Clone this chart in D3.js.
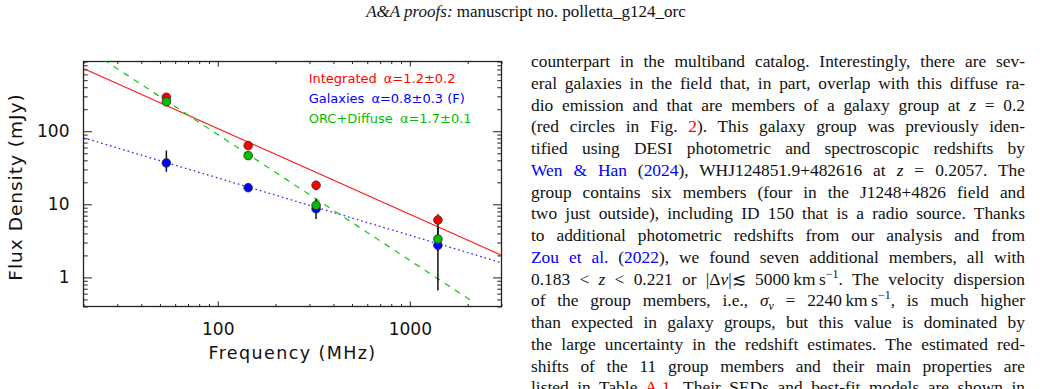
<html>
  <head>
    <script src="https://cdn.jsdelivr.net/npm/d3@7"></script>
    <style>
      * {
        margin: 0;
        padding: 0;
      }
      body {
        width: 1049px;
        height: 389px;
        background-color: white;
        position: relative;
        overflow: hidden;
        font-family: "Liberation Serif", "Times New Roman", serif;
        color: #111;
      }
      #header {
        position: absolute;
        left: 526px;
        top: 2px;
        transform: translateX(-50%);
        font-size: 17px;
        line-height: 20px;
        white-space: nowrap;
      }
      #chart {
        position: absolute;
        left: 0;
        top: 0;
      }
      #column {
        position: absolute;
        left: 531px;
        top: 51px;
        width: 494px;
        font-size: 17.4px;
        line-height: 21.75px;
      }
      #column div {
        text-align: justify;
        text-align-last: justify;
      }
      #column sup, #column sub {
        font-size: 12px;
        line-height: 0;
      }
      .red { color: #f00; }
      .blue { color: #00f; }
      .ax text {
        font-family: "DejaVu Sans", sans-serif;
        font-size: 17px;
        fill: #111;
      }
    </style>
  </head>
  <body>
    <div id="header"><i>A&amp;A proofs:</i> manuscript no. polletta_g124_orc</div>
    <svg id="chart" width="510" height="389"></svg>
    <div id="column">
      <div>counterpart in the multiband catalog. Interestingly, there are sev-</div>
      <div>eral galaxies in the field that, in part, overlap with this diffuse ra-</div>
      <div>dio emission and that are members of a galaxy group at <i>z</i> = 0.2</div>
      <div>(red circles in Fig. <span class="red">2</span>). This galaxy group was previously iden-</div>
      <div>tified using DESI photometric and spectroscopic redshifts by</div>
      <div><span class="blue">Wen &amp; Han</span> (<span class="blue">2024</span>), WHJ124851.9+482616 at <i>z</i> = 0.2057. The</div>
      <div>group contains six members (four in the J1248+4826 field and</div>
      <div>two just outside), including ID 150 that is a radio source. Thanks</div>
      <div>to additional photometric redshifts from our analysis and from</div>
      <div><span class="blue">Zou et al.</span> (<span class="blue">2022</span>), we found seven additional members, all with</div>
      <div>0.183 &lt; <i>z</i> &lt; 0.221 or |Δ<i>v</i>|≲ 5000&#8201;km&#8201;s<sup>−1</sup>. The velocity dispersion</div>
      <div>of the group members, i.e., <i>σ<sub>v</sub></i> = 2240&#8201;km&#8201;s<sup>−1</sup>, is much higher</div>
      <div>than expected in galaxy groups, but this value is dominated by</div>
      <div>the large uncertainty in the redshift estimates. The estimated red-</div>
      <div>shifts of the 11 group members and their main properties are</div>
      <div>listed in Table <span class="red">A.1</span>. Their SEDs and best-fit models are shown in</div>
    </div>

    <script>
      // observing frequencies (MHz)
      const freqs = [54, 144, 325, 1400];

      // flux densities (mJy) and error bar ends
      const integrated = [292, 63.7, 18.2, 6.1];
      const integratedLo = [275, 59, 15.6, 4.6];
      const integratedHi = [310, 68, 21, 7.3];

      const galaxies = [36.9, 16.9, 8.7, 2.75];
      const galaxiesLo = [27.8, 15.8, 6.3, 0.66];
      const galaxiesHi = [54.5, 18.2, 11.9, 4.8];

      const orc = [253, 46.4, 9.7, 3.35];
      const orcLo = [238, 43, 8.0, 2.3];
      const orcHi = [270, 50, 11.5, 4.8];

      // power-law fits: S = S1GHz * (nu/1000)^-alpha
      const fitNames = ["Integrated", "Galaxies", "ORC+Diffuse"];
      const fitLabels = ["\u03b1=1.2\u00b10.2", "\u03b1=0.8\u00b10.3 (F)", "\u03b1=1.7\u00b10.1"];
      const fitAlpha = [1.174, 0.785, 1.722];
      const fitS1GHz = [7.3, 3.77, 1.71];
      const fitNuMax = [3000, 3000, 2150];

      const xTicksMajor = [100, 1000];
      const yTicksMajor = [1, 10, 100];

      const colors = ["#ff0000", "#0000ff", "#00c000"];
      const lineColors = ["#ff1a1a", "#2a2aff", "#22c822"];
      const dashes = [null, "1.6,3", "6,6"];

      const pLeft = 83.5, pRight = 501.5, pTop = 61.5, pBottom = 306.5;

      const x = d3.scaleLog().domain([20, 3000]).range([pLeft, pRight]);
      const y = d3.scaleLog().domain([0.4, 900]).range([pBottom, pTop]);

      const svg = d3.select("#chart");

      svg.append("clipPath").attr("id", "clip")
        .append("rect")
        .attr("x", pLeft).attr("y", pTop)
        .attr("width", pRight - pLeft).attr("height", pBottom - pTop);

      // minor ticks for the log axes
      const xTicks = [];
      [10, 100, 1000].forEach((d) => {
        for (let k = 1; k < 10; k++) {
          const v = d * k;
          if (v >= 20 && v <= 3000) xTicks.push(v);
        }
      });
      const yTicks = [];
      [0.1, 1, 10, 100].forEach((d) => {
        for (let k = 1; k < 10; k++) {
          const v = +(d * k).toPrecision(3);
          if (v >= 0.4 && v <= 900) yTicks.push(v);
        }
      });

      const isMajor = (list) => (v) => list.some((m) => Math.abs(m - v) < 1e-9);
      const xMaj = isMajor(xTicksMajor);
      const yMaj = isMajor(yTicksMajor);

      const xAxis = d3.axisBottom(x).tickValues(xTicks)
        .tickFormat((d) => (xMaj(d) ? d : ""))
        .tickSizeOuter(0).tickPadding(16);
      const yAxis = d3.axisLeft(y).tickValues(yTicks)
        .tickFormat((d) => (yMaj(d) ? d : ""))
        .tickSizeOuter(0).tickPadding(8);

      const gx = svg.append("g").attr("class", "ax")
        .attr("transform", "translate(0," + pBottom + ")").call(xAxis);
      gx.selectAll("line").attr("y2", (d) => (xMaj(d) ? -5 : -2.5));
      const gxTop = svg.append("g").attr("class", "ax")
        .attr("transform", "translate(0," + pTop + ")")
        .call(d3.axisTop(x).tickValues(xTicks).tickFormat("").tickSizeOuter(0));
      gxTop.selectAll("line").attr("y2", (d) => (xMaj(d) ? 5 : 2.5));

      const gy = svg.append("g").attr("class", "ax")
        .attr("transform", "translate(" + pLeft + ",0)").call(yAxis);
      gy.selectAll("line").attr("x2", (d) => (yMaj(d) ? 8.5 : 4.2));
      const gyRight = svg.append("g").attr("class", "ax")
        .attr("transform", "translate(" + pRight + ",0)")
        .call(d3.axisRight(y).tickValues(yTicks).tickFormat("").tickSizeOuter(0));
      gyRight.selectAll("line").attr("x2", (d) => (yMaj(d) ? -8.5 : -4.2));

      svg.selectAll(".ax .domain").remove();
      svg.selectAll(".ax line").attr("stroke", "#222").attr("stroke-width", 1);
      gx.selectAll("text").attr("y", 16).attr("dy", "0.71em");

      svg.append("rect")
        .attr("x", pLeft).attr("y", pTop)
        .attr("width", pRight - pLeft).attr("height", pBottom - pTop)
        .attr("fill", "none").attr("stroke", "#222").attr("stroke-width", 1.3);

      // axis titles
      svg.append("text")
        .attr("x", (pLeft + pRight) / 2).attr("y", 359)
        .attr("text-anchor", "middle")
        .style("font-family", "DejaVu Sans, sans-serif")
        .style("font-size", "17.5px").style("letter-spacing", "1.4px")
        .attr("fill", "#111")
        .text("Frequency (MHz)");

      svg.append("text")
        .attr("transform", "translate(22,187) rotate(-90)")
        .attr("text-anchor", "middle")
        .style("font-family", "DejaVu Sans, sans-serif")
        .style("font-size", "18.5px").style("letter-spacing", "1px")
        .attr("fill", "#111")
        .text("Flux Density (mJy)");

      // fit lines
      const line = d3.line().x((d) => x(d[0])).y((d) => y(d[1]));
      const fits = svg.append("g").attr("clip-path", "url(#clip)");
      fitNames.forEach((name, i) => {
        const pts = [20, fitNuMax[i]].map((nu) => [nu, fitS1GHz[i] * Math.pow(nu / 1000, -fitAlpha[i])]);
        fits.append("path")
          .attr("d", line(pts))
          .attr("fill", "none")
          .attr("stroke", lineColors[i])
          .attr("stroke-width", i === 0 ? 1.2 : 1.3)
          .attr("stroke-dasharray", dashes[i]);
      });

      // measurements
      const series = [
        { vals: integrated, lo: integratedLo, hi: integratedHi, color: colors[0] },
        { vals: galaxies, lo: galaxiesLo, hi: galaxiesHi, color: colors[1] },
        { vals: orc, lo: orcLo, hi: orcHi, color: colors[2] },
      ];

      series.forEach((s) => {
        svg.append("g").selectAll("line")
          .data(freqs).enter().append("line")
          .attr("x1", (d) => x(d)).attr("x2", (d) => x(d))
          .attr("y1", (d, i) => y(s.lo[i])).attr("y2", (d, i) => y(s.hi[i]))
          .attr("stroke", "#111").attr("stroke-width", 1.5);
      });

      series.forEach((s) => {
        svg.append("g").selectAll("circle")
          .data(freqs).enter().append("circle")
          .attr("cx", (d) => x(d))
          .attr("cy", (d, i) => y(s.vals[i]))
          .attr("r", 4.3)
          .attr("fill", s.color)
          .attr("stroke", "#333").attr("stroke-width", 0.9);
      });

      // legend
      const legend = svg.append("g")
        .style("font-family", "DejaVu Sans, sans-serif")
        .style("font-size", "13px");
      fitNames.forEach((name, i) => {
        const t = legend.append("text")
          .attr("x", 308.7).attr("y", 82.7 + i * 20.3)
          .attr("fill", colors[i]);
        t.append("tspan").text(name);
        t.append("tspan").attr("dx", 7).text(fitLabels[i]);
      });
    </script>
  </body>
</html>
